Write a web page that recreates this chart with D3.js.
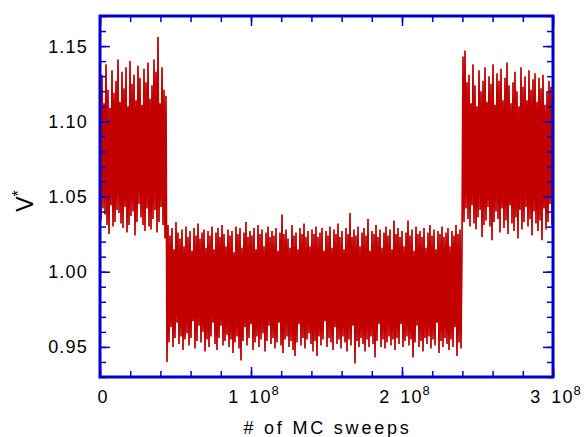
<!DOCTYPE html>
<html>
<head>
<meta charset="utf-8">
<title>V* vs MC sweeps</title>
<script src="https://cdn.jsdelivr.net/npm/d3@7"></script>
<style>
  body { margin: 0; background: #fff; }
  text { font-family: "Liberation Sans", Arial, sans-serif; fill: #000; }
</style>
</head>
<body>
<div id="chart"></div>
<script>
/*
 * MC trace of V*. Samples are evenly spaced in sweeps
 * over the whole run; the run is split in three phases (high / low / high).
 */
var phaseHighStart = [
  1.118,1.034, 1.131,1.042, 1.112,1.038, 1.138,1.031, 1.121,1.025, 1.109,1.044, 1.134,1.030, 1.119,1.033, 1.127,1.041, 1.141,1.039,
  1.113,1.032, 1.133,1.029, 1.122,1.043, 1.136,1.026, 1.110,1.031, 1.140,1.037, 1.125,1.040, 1.131,1.024, 1.114,1.033, 1.137,1.045,
  1.129,1.036, 1.111,1.031, 1.135,1.027, 1.126,1.042, 1.139,1.030, 1.115,1.028, 1.124,1.035, 1.141,1.041, 1.133,1.026, 1.156,1.033,
  1.112,1.043, 1.136,1.031, 1.121,1.022, 1.117
];

var phaseLow = [
  0.940,1.031, 0.953,1.024, 0.963,1.029, 0.950,1.015, 0.956,1.033, 0.966,1.026, 0.952,1.022, 0.957,1.028, 0.948,1.017, 0.955,1.030,
  0.959,1.023, 0.951,1.027, 0.956,1.014, 0.967,1.029, 0.949,1.024, 0.954,1.032, 0.964,1.022, 0.953,1.026, 0.960,1.028, 0.947,1.016,
  0.955,1.027, 0.950,1.024, 0.957,1.030, 0.966,1.015, 0.952,1.026, 0.948,1.029, 0.956,1.023, 0.964,1.031, 0.951,1.025, 0.954,1.017,
  0.958,1.028, 0.950,1.024, 0.955,1.027, 0.946,1.013, 0.953,1.030, 0.957,1.025, 0.949,1.029, 0.941,1.016, 0.954,1.026, 0.963,1.033,
  0.951,1.023, 0.956,1.027, 0.965,1.024, 0.948,1.029, 0.953,1.015, 0.957,1.031, 0.950,1.025, 0.955,1.028, 0.959,1.017, 0.947,1.026,
  0.954,1.030, 0.964,1.023, 0.952,1.027, 0.956,1.024, 0.949,1.029, 0.953,1.014, 0.966,1.026, 0.951,1.038, 0.946,1.025, 0.955,1.028,
  0.957,1.022, 0.950,1.016, 0.954,1.031, 0.948,1.024, 0.944,1.026, 0.953,1.015, 0.965,1.029, 0.951,1.025, 0.956,1.032, 0.949,1.023,
  0.955,1.027, 0.959,1.017, 0.952,1.028, 0.947,1.025, 0.954,1.030, 0.944,1.023, 0.957,1.026, 0.951,1.029, 0.955,1.014, 0.967,1.027,
  0.950,1.024, 0.956,1.030, 0.953,1.016, 0.948,1.028, 0.963,1.025, 0.952,1.032, 0.955,1.023, 0.949,1.027, 0.957,1.015, 0.953,1.029,
  0.947,1.025, 0.955,1.039, 0.951,1.023, 0.964,1.028, 0.939,1.024, 0.954,1.030, 0.950,1.017, 0.956,1.026, 0.952,1.029, 0.947,1.024,
  0.955,1.035, 0.950,1.014, 0.957,1.027, 0.952,1.025, 0.943,1.031, 0.954,1.023, 0.965,1.028, 0.950,1.016, 0.955,1.026, 0.949,1.030,
  0.953,1.024, 0.957,1.028, 0.951,1.015, 0.955,1.034, 0.948,1.025, 0.956,1.029, 0.952,1.023, 0.965,1.027, 0.950,1.017, 0.954,1.026,
  0.957,1.034, 0.951,1.024, 0.955,1.028, 0.943,1.014, 0.953,1.030, 0.964,1.025, 0.950,1.027, 0.954,1.023, 0.947,1.029, 0.956,1.016,
  0.952,1.026, 0.957,1.031, 0.949,1.024, 0.955,1.028, 0.951,1.015, 0.966,1.027, 0.946,1.025, 0.954,1.030, 0.950,1.023, 0.956,1.026,
  0.952,1.029, 0.948,1.017, 0.955,1.027, 0.950,1.024, 0.963,1.031, 0.944,1.025, 0.953,1.028, 0.949,1.018
];

var phaseHighEnd = [
  1.143,1.033, 1.147,1.042, 1.126,1.035, 1.131,1.030, 1.112,1.044, 1.138,1.032, 1.124,1.028, 1.110,1.036, 1.134,1.041, 1.120,1.023,
  1.127,1.031, 1.136,1.034, 1.113,1.043, 1.130,1.030, 1.125,1.021, 1.138,1.033, 1.111,1.040, 1.132,1.035, 1.127,1.026, 1.135,1.042,
  1.114,1.029, 1.129,1.034, 1.139,1.025, 1.124,1.044, 1.112,1.032, 1.126,1.027, 1.133,1.036, 1.120,1.022, 1.110,1.041, 1.136,1.028,
  1.123,1.033, 1.130,1.043, 1.114,1.030, 1.134,1.035, 1.121,1.024, 1.128,1.040, 1.132,1.032, 1.113,1.027, 1.129,1.034, 1.122,1.021,
  1.131,1.042, 1.111,1.028, 1.120,1.033, 1.127,1.045, 1.123,1.031, 1.125
];

var totalSweeps = 3e8;
var xTickValues = [0, 1e8, 2e8, 3e8];
var xMinorStep = 2e7;
var yTickValues = [0.95, 1.00, 1.05, 1.10, 1.15];
var yMinorStep = 0.01;
var yDomain = [0.93, 1.17];

var frameBlue = "#0000cc";
var traceRed = "#c20000";

/*
 * drawChart()
 * Build the svg, the trace and the boxed axes.
 */
function drawChart() {
	var w = 587, h = 437;
	var m = { left: 100, right: 34, top: 16, bottom: 60 };
	var pw = w - m.left - m.right, ph = h - m.top - m.bottom;

	var svg = d3.select("#chart").append("svg").attr("width", w).attr("height", h);

	var x = d3.scaleLinear().domain([0, totalSweeps]).range([m.left, m.left + pw]);
	var y = d3.scaleLinear().domain(yDomain).range([m.top + ph, m.top]);

	// the trace: all phases one after the other
	var samples = phaseHighStart.concat(phaseLow, phaseHighEnd);
	var step = totalSweeps / (samples.length - 1);

	var line = d3.line()
		.x(function(d, i) { return x(i * step); })
		.y(function(d) { return y(d); });

	svg.append("path").datum(samples)
		.attr("d", line)
		.attr("fill", "none")
		.attr("stroke", traceRed)
		.attr("stroke-width", 1.7)
		.attr("stroke-linejoin", "bevel");

	// minor tick lists
	var xMinor = d3.range(0, totalSweeps + 1, xMinorStep);
	var yMinor = d3.range(yDomain[0], yDomain[1] + 1e-9, yMinorStep);

	function tickStyle(g) {
		g.select(".domain").remove();
		g.selectAll(".tick line").attr("stroke", frameBlue).attr("stroke-width", 1.5);
	}

	// inward ticks on all four sides
	var sides = [
		{ axis: d3.axisBottom, scale: x, at: "translate(0," + (m.top + ph) + ")", major: xTickValues, minor: xMinor },
		{ axis: d3.axisTop, scale: x, at: "translate(0," + m.top + ")", major: xTickValues, minor: xMinor },
		{ axis: d3.axisLeft, scale: y, at: "translate(" + m.left + ",0)", major: yTickValues, minor: yMinor },
		{ axis: d3.axisRight, scale: y, at: "translate(" + (m.left + pw) + ",0)", major: yTickValues, minor: yMinor }
	];
	sides.forEach(function(s) {
		svg.append("g").attr("transform", s.at)
			.call(s.axis(s.scale).tickValues(s.minor).tickSize(-6).tickFormat(""))
			.call(tickStyle);
		svg.append("g").attr("transform", s.at)
			.call(s.axis(s.scale).tickValues(s.major).tickSize(-10).tickFormat(""))
			.call(tickStyle);
	});

	// y tick labels
	svg.append("g").selectAll("text").data(yTickValues).enter().append("text")
		.attr("x", m.left - 12)
		.attr("y", function(d) { return y(d); })
		.attr("dy", "0.36em")
		.attr("text-anchor", "end")
		.style("font-size", "18px")
		.style("letter-spacing", "1.2px")
		.text(d3.format(".2f"));

	// x tick labels, "n 10^8"
	var xlab = svg.append("g").selectAll("text").data(xTickValues).enter().append("text")
		.attr("x", function(d) { return x(d) + 3; })
		.attr("y", m.top + ph + 26)
		.attr("text-anchor", "middle")
		.style("font-size", "18px")
		.style("letter-spacing", "1px")
		.style("word-spacing", "4px");
	xlab.each(function(d) {
		var t = d3.select(this);
		if (d === 0) { t.text("0"); return; }
		t.append("tspan").text((d / 1e8) + " 10");
		t.append("tspan").attr("dy", -8).style("font-size", "13px").text("8");
	});

	// axis titles
	svg.append("text")
		.attr("x", m.left + pw / 2 + 1)
		.attr("y", 434)
		.attr("text-anchor", "middle")
		.style("font-size", "18px")
		.style("letter-spacing", "2.8px")
		.text("# of MC sweeps");

	var yt = svg.append("text")
		.attr("transform", "translate(33,201) rotate(-90)")
		.attr("text-anchor", "middle")
		.style("font-size", "23px");
	yt.append("tspan").text("V");
	yt.append("tspan").attr("dy", -9).style("font-size", "16px").text("*");

	// the box
	svg.append("rect")
		.attr("x", m.left).attr("y", m.top)
		.attr("width", pw).attr("height", ph)
		.attr("fill", "none")
		.attr("stroke", frameBlue)
		.attr("stroke-width", 3);
}

drawChart();
</script>
</body>
</html>
